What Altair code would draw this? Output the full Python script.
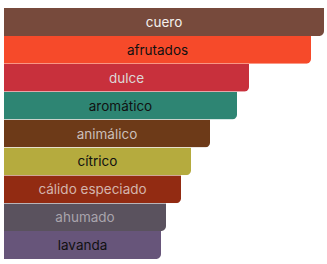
import altair as alt
import pandas as pd

categories = ["cuero", "afrutados", "dulce", "aromático", "animálico", "cítrico",
              "cálido especiado", "ahumado", "lavanda"]
values = [320, 307, 245, 233, 206, 187, 177, 162, 157]
bar_colors = ["#774a3c", "#f64a2a", "#c8303c", "#2e8573", "#6d3a18", "#b5ab3e",
              "#922b12", "#5a525e", "#67557a"]
text_colors = ["#f4f0ee", "#111111", "#dcd6d6", "#111111", "#cbbfb8", "#111111",
               "#d4b4ac", "#a9a4ac", "#111111"]

df = pd.DataFrame({"cat": categories, "val": values})

y = alt.Y("cat:N", sort=categories, axis=None, scale=alt.Scale(paddingInner=0, paddingOuter=0))
x_scale = alt.Scale(domain=[0, 320], nice=False, zero=True)

bars = alt.Chart(df).mark_bar(cornerRadiusBottomRight=5).encode(
    x=alt.X("val:Q", axis=None, scale=x_scale),
    y=y,
    color=alt.Color("cat:N", scale=alt.Scale(domain=categories, range=bar_colors), legend=None),
)

labels = alt.Chart(df).transform_calculate(mid="datum.val / 2").mark_text(
    font="Inter", fontSize=13.5, baseline="middle", align="center", dy=1
).encode(
    x=alt.X("mid:Q", scale=x_scale),
    y=y,
    text="cat:N",
    color=alt.Color("cat:N", scale=alt.Scale(domain=categories, range=text_colors), legend=None),
)

chart = alt.layer(bars, labels).resolve_scale(color="independent").properties(
    width=320, height=251,
    padding={"left": 4, "top": 8, "right": 3, "bottom": 5},
    autosize=alt.AutoSizeParams(type="none"),
).configure_view(stroke=None)

chart.save("out.html", embed_options={"renderer": "svg", "actions": False})
